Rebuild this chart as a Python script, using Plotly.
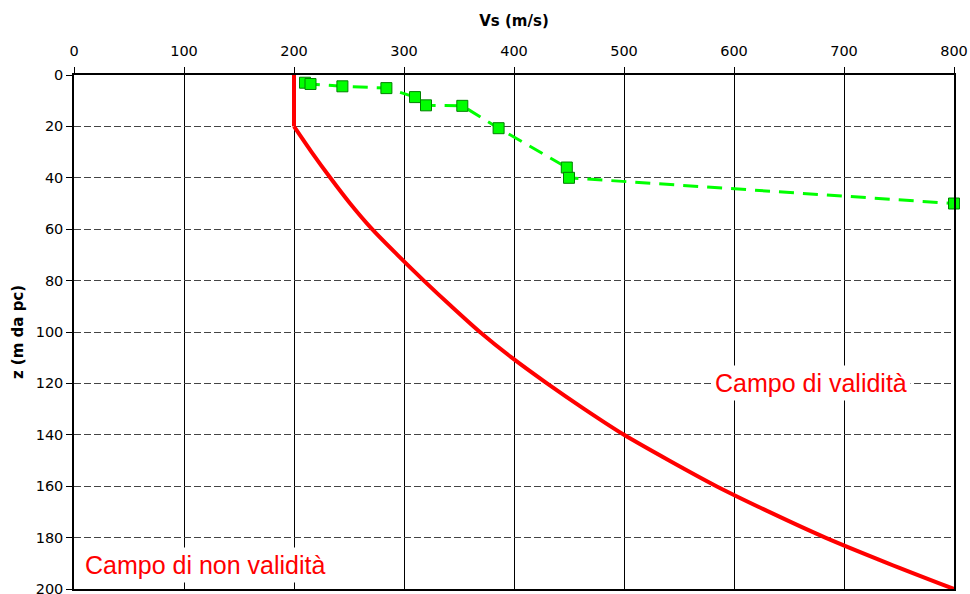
import plotly.graph_objects as go

# Measured profile (green)
vs_meas = [210, 215, 244, 284, 310, 320, 353, 386, 448, 450, 800]
z_meas = [3, 3.5, 4.4, 5.1, 8.6, 11.8, 12, 20.7, 36, 40, 50]

# Validity limit curve (red)
vs_limit = [200, 200, 216, 233, 251, 271, 294, 318, 343, 369, 398, 430, 464, 500, 541, 584, 632, 683, 740, 800]
z_limit = [0, 20, 30, 40, 50, 60, 70, 80, 90, 100, 110, 120, 130, 140, 150, 160, 170, 180, 190, 200]

x_ticks = [0, 100, 200, 300, 400, 500, 600, 700, 800]
y_ticks = [0, 20, 40, 60, 80, 100, 120, 140, 160, 180, 200]

fig = go.Figure()

# vertical part of the limit (first segment) drawn straight
fig.add_trace(go.Scatter(
    x=vs_limit[:2], y=z_limit[:2], mode="lines",
    line=dict(color="#FF0000", width=4),
    cliponaxis=False, showlegend=False,
))
# curved part of the limit
fig.add_trace(go.Scatter(
    x=vs_limit[1:], y=z_limit[1:], mode="lines",
    line=dict(color="#FF0000", width=4, shape="spline", smoothing=0.8),
    cliponaxis=False, showlegend=False,
))

fig.add_trace(go.Scatter(
    x=vs_meas, y=z_meas, mode="lines+markers",
    line=dict(color="#00FF00", width=3, dash="15px,9px"),
    marker=dict(symbol="square", size=11, color="#00FF00",
                line=dict(color="#008000", width=1)),
    cliponaxis=False, showlegend=False,
))

fig.add_annotation(x=670, y=120, text="Campo di validità", showarrow=False,
                   font=dict(family="Liberation Sans", size=25, color="#FF0000"),
                   bgcolor="white", borderpad=3)
fig.add_annotation(x=119.5, y=190.8, text="Campo di non validità", showarrow=False,
                   font=dict(family="Liberation Sans", size=25, color="#FF0000"),
                   bgcolor="white", borderpad=3)

fig.update_layout(
    width=970, height=594,
    margin=dict(l=74, r=16, t=75, b=5),
    paper_bgcolor="white", plot_bgcolor="white",
    font=dict(family="DejaVu Sans", size=14, color="#000000"),
)

fig.update_xaxes(
    side="top", range=[0, 800], tickvals=x_ticks, automargin=False,
    showline=True, linecolor="#000000", linewidth=1.5, mirror=True,
    ticks="outside", ticklen=6, tickcolor="#000000",
    showgrid=True, gridcolor="#000000", gridwidth=1,
    zeroline=False, ticklabelstandoff=5, ticklabeloverflow="allow",
    title=dict(text="<b>Vs (m/s)</b>", font=dict(family="DejaVu Sans", size=15), standoff=13),
    tickfont=dict(family="DejaVu Sans", size=14.5),
)
fig.update_yaxes(
    range=[200, 0], tickvals=y_ticks, automargin=False,
    showline=True, linecolor="#000000", linewidth=1.5, mirror=True,
    ticks="outside", ticklen=6, tickcolor="#000000",
    showgrid=True, gridcolor="#444444", gridwidth=1, griddash="7px,3px",
    zeroline=False, ticklabeloverflow="allow",
    title=dict(text="<b>z (m da pc)</b>", font=dict(family="DejaVu Sans", size=15), standoff=8),
    tickfont=dict(family="DejaVu Sans", size=14.5),
)

fig.write_html("out.html", config={"displayModeBar": False},
               post_script="document.body.style.margin='0';document.body.style.padding='0';")
